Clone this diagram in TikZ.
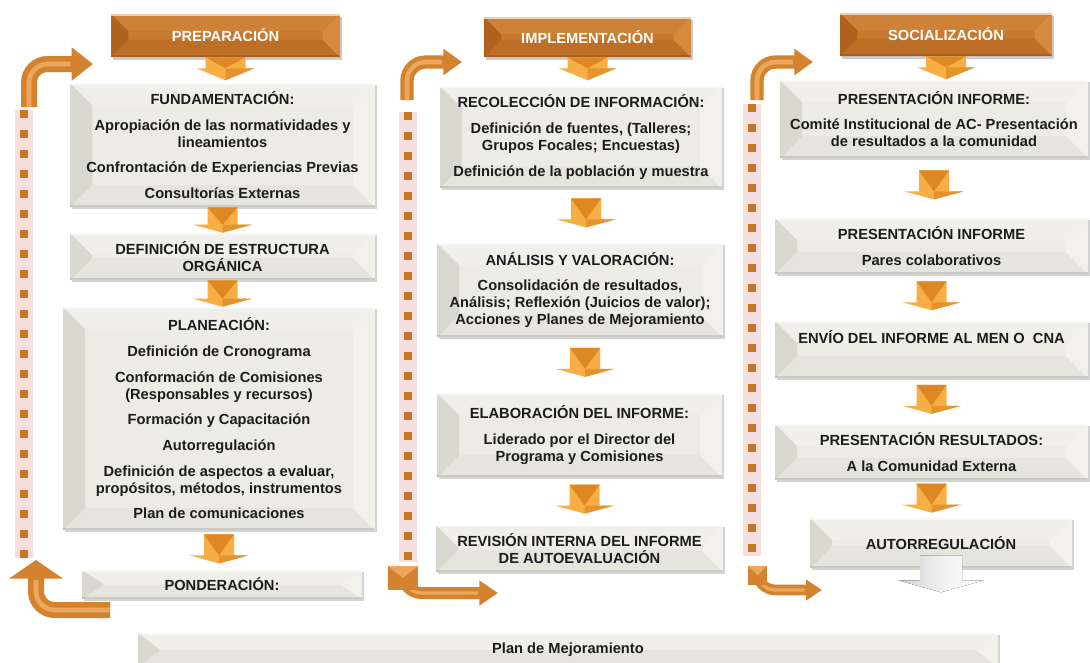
\documentclass[tikz,border=0pt]{standalone}
\usepackage{fontspec}
\setmainfont{Liberation Sans}
\usetikzlibrary{calc,shadows,arrows.meta}
\definecolor{face}{HTML}{ECEBE4}
\definecolor{bvL}{HTML}{D9D8CF}
\definecolor{bvR}{HTML}{F2F1EC}
\definecolor{bvT}{HTML}{F0EFE9}
\definecolor{bvB}{HTML}{E6E5DD}
\definecolor{hface}{HTML}{C77A30}
\definecolor{hL}{HTML}{B0621F}
\definecolor{hR}{HTML}{D68A3F}
\definecolor{hT}{HTML}{CE8238}
\definecolor{hB}{HTML}{BD6F27}
\definecolor{arL}{HTML}{F6AE45}
\definecolor{arD}{HTML}{DE8824}
\definecolor{elb}{HTML}{D38330}
\definecolor{elbL}{HTML}{EBA75C}
\definecolor{dashc}{HTML}{C97623}
\definecolor{glow}{HTML}{F5DFDF}
\definecolor{txt}{HTML}{1C1C1C}
\newcommand\bodyfont{\fontsize{11}{12.75}\selectfont\bfseries}
\newcommand\psk{6.5pt}
% bevel decoration drawn inside a node (behind its text)
\newcommand\bevelpp[5]{%
  \fill[#3] let \p1=(path picture bounding box.north west), \p2=(path picture bounding box.south east), \n1={min(#5,(\y1-\y2)/2)} in
    (\x1,\y1) -- (\x2,\y1) -- (\x2-#5,\y1-\n1) -- (\x1+#5,\y1-\n1) -- cycle;
  \fill[#4] let \p1=(path picture bounding box.north west), \p2=(path picture bounding box.south east), \n1={min(#5,(\y1-\y2)/2)} in
    (\x1,\y2) -- (\x2,\y2) -- (\x2-#5,\y2+\n1) -- (\x1+#5,\y2+\n1) -- cycle;
  \fill[#1] let \p1=(path picture bounding box.north west), \p2=(path picture bounding box.south east), \n1={min(#5,(\y1-\y2)/2)} in
    (\x1,\y1) -- (\x1+#5,\y1-\n1) -- (\x1+#5,\y2+\n1) -- (\x1,\y2) -- cycle;
  \fill[#2] let \p1=(path picture bounding box.north west), \p2=(path picture bounding box.south east), \n1={min(#5,(\y1-\y2)/2)} in
    (\x2,\y1) -- (\x2-#5,\y1-\n1) -- (\x2-#5,\y2+\n1) -- (\x2,\y2) -- cycle;
  \fill[white, opacity=.6] (path picture bounding box.north west) rectangle ([yshift=-1.5pt]path picture bounding box.north east);
  \fill[black, opacity=.12] (path picture bounding box.south west) rectangle ([yshift=1.2pt]path picture bounding box.south east);
}
\newcommand\mybox[7]{%
  \pgfmathsetmacro\bcx{(#3+#5)/2}%
  \pgfmathsetmacro\bcy{(#4+#6)/2}%
  \pgfmathsetmacro\bw{(#5-#3)*0.75}%
  \pgfmathsetmacro\bh{(#6-#4)*0.75}%
  \node[#1, minimum width=\bw pt, minimum height=\bh pt] (#2) at (\bcx,\bcy) {#7};}
% block arrow from top-centre #1 to tip #2
\newcommand\blk[5]{%
  \fill[arL] ($(#1)+(-#3,0)$) -- ($(#1)+(#3,0)$) -- ($(#2)+(#3,#5)$) -- ($(#2)+(#4,#5)$) -- (#2) -- ($(#2)+(-#4,#5)$) -- ($(#2)+(-#3,#5)$) -- cycle;
  \fill[arD] ($(#1)+(-#3,0)$) -- ($(#1)+(#3,0)$) -- ($(#2)+(0,#5)$) -- cycle;
  \fill[arD, opacity=.7] ($(#2)+(#4,#5)$) -- (#2) -- ($(#2)+(0,#5)$) -- cycle;
}
\newcommand\darrow[3][0pt]{%
  \path let \p1=(#2.south), \p2=(#3.north), \n1={\y1-\y2}, \n2={min(\n1,21.75pt)}, \n3={\y1-(\n1-\n2)*0.4} in
    (\x1+#1,\n3) coordinate (AT) (\x1+#1,\n3-\n2) coordinate (AB);
  \blk{AT}{AB}{11.25pt}{22pt}{6pt}}
\newcommand\harrow[2]{%
  \path let \p1=(#1.south), \p2=(#2.north), \n1={\y1-\y2}, \n2={min(\n1,17.25pt)} in
    (\x1,\y1) coordinate (AT) (\x1,\y1-\n2) coordinate (AB);
  \blk{AT}{AB}{15pt}{21.75pt}{9pt}}
\begin{document}
\begin{tikzpicture}[x=0.75pt,y=-0.75pt,
  bev/.style={fill=face, text=txt, font=\bodyfont, align=center, inner sep=2pt,
    drop shadow={opacity=0.35, shadow xshift=1.2pt, shadow yshift=-1.8pt},
    path picture={\bevelpp{bvL}{bvR}{bvT}{bvB}{16.5pt}}},
  hdr/.style={fill=hface, text=white, font=\bodyfont, align=center,
    drop shadow={opacity=0.4, shadow xshift=1.5pt, shadow yshift=-2pt},
    path picture={\bevelpp{hL}{hR}{hT}{hB}{13pt}}},
  elbow/.style={draw=elb, line width=#1, rounded corners=14pt},
  elbhi/.style={draw=elbL, line width=3.5pt, rounded corners=14pt},
  dotline/.style={draw=dashc, line width=6pt, dash pattern=on 6pt off 9pt},
  glowline/.style={draw=glow, line width=13pt}]
\useasboundingbox (0,0) rectangle (1090,662);
\fill[white] (0,0) rectangle (1090,662);

% dotted return lines
\coordinate (d1a) at (24,110); \coordinate (d1b) at (24,558);
\coordinate (d2a) at (408,112); \coordinate (d2b) at (408,562);
\coordinate (d3a) at (752,104); \coordinate (d3b) at (752,556);
\foreach \a/\b in {d1a/d1b,d2a/d2b,d3a/d3b}{
  \draw[glowline] (\a) -- (\b);
  \draw[dotline] (\a) -- (\b);}

% headers
\mybox{hdr}{hprep}{111}{14}{340}{57}{PREPARACIÓN}
\mybox{hdr}{himp}{484}{17}{691}{57}{IMPLEMENTACIÓN}
\mybox{hdr}{hsoc}{840}{13}{1052}{56}{SOCIALIZACIÓN}

% column 1
\mybox{bev}{fund}{70}{83}{375}{207}{FUNDAMENTACIÓN:\\[\psk]Apropiación de las normatividades y\\lineamientos\\[\psk]Confrontación de Experiencias Previas\\[\psk]Consultorías Externas}
\mybox{bev}{defe}{70}{233}{375}{280}{DEFINICIÓN DE ESTRUCTURA\\ORGÁNICA}
\mybox{bev}{plan}{63}{307}{375}{530}{PLANEACIÓN:\\[\psk]Definición de Cronograma\\[\psk]Conformación de Comisiones\\(Responsables y recursos)\\[\psk]Formación y Capacitación\\[\psk]Autorregulación\\[\psk]Definición de aspectos a evaluar,\\propósitos, métodos, instrumentos\\[\psk]Plan de comunicaciones}
\mybox{bev}{pond}{82}{570}{362}{599}{PONDERACIÓN:}

% column 2
\mybox{bev}{rec}{440}{86}{722}{188}{RECOLECCIÓN DE INFORMACIÓN:\\[\psk]Definición de fuentes, (Talleres;\\Grupos Focales; Encuestas)\\[\psk]Definición de la población y muestra}
\mybox{bev}{ana}{437}{243}{723}{337}{ANÁLISIS Y VALORACIÓN:\\[\psk]Consolidación de resultados,\\Análisis; Reflexión (Juicios de valor);\\Acciones y Planes de Mejoramiento}
\mybox{bev}{elab}{437}{393}{722}{477}{ELABORACIÓN DEL INFORME:\\[\psk]Liderado por el Director del\\Programa y Comisiones}
\mybox{bev}{rev}{436}{525}{723}{572}{REVISIÓN INTERNA DEL INFORME\\DE AUTOEVALUACIÓN}

% column 3
\mybox{bev}{pres}{780}{80}{1088}{158}{PRESENTACIÓN INFORME:\\[\psk]Comité Institucional de AC- Presentación\\de resultados a la comunidad}
\mybox{bev}{pares}{775}{218}{1088}{274}{PRESENTACIÓN INFORME\\[\psk]Pares colaborativos}
\mybox{bev}{envio}{775}{321}{1088}{378}{ENVÍO DEL INFORME AL MEN O\ \ CNA\\[\psk]\mbox{}}
\mybox{bev}{presres}{775}{424}{1088}{480}{PRESENTACIÓN RESULTADOS:\\[\psk]A la Comunidad Externa}
\mybox{bev}{auto}{810}{518}{1072}{568}{AUTORREGULACIÓN}

% bottom
\mybox{bev}{mej}{138}{633}{998}{667}{Plan de Mejoramiento}

% block arrows between steps
\harrow{hprep}{fund}
\darrow{fund}{defe}
\darrow{defe}{plan}
\darrow{plan}{pond}
\harrow{himp}{rec}
\darrow[3.75pt]{rec}{ana}
\darrow[3.75pt]{ana}{elab}
\darrow[3.75pt]{elab}{rev}
\harrow{hsoc}{pres}
\darrow{pres}{pares}
\darrow{pares}{envio}
\darrow{envio}{presres}
\darrow{presres}{auto}

% grey arrow out of AUTORREGULACIÓN
\path (auto.south) ++(0,-18pt) coordinate (autoend);
\fill[left color=black!18, right color=white, middle color=black!6]
  ($(autoend)+(-15.75pt,27.75pt)$) -- ($(autoend)+(15.75pt,27.75pt)$) -- ($(autoend)+(15.75pt,9pt)$) -- ($(autoend)+(32.25pt,9pt)$) -- (autoend) -- ($(autoend)+(-32.25pt,9pt)$) -- ($(autoend)+(-15.75pt,9pt)$) -- cycle;

% elbow arrows at the top of each column
\coordinate (e1a) at (29,107); \coordinate (e1b) at (93,64);
\coordinate (e2a) at (407,100); \coordinate (e2b) at (462,62);
\coordinate (e3a) at (757,100); \coordinate (e3b) at (813,62);
\draw[elbow=12pt, -{Triangle[width=24pt,length=16pt]}] (e1a) |- (e1b);
\draw[elbhi, shorten >=17pt] (e1a) |- (e1b);
\draw[elbow=10pt, -{Triangle[width=19pt,length=14pt]}] (e2a) |- (e2b);
\draw[elbhi, shorten >=15pt] (e2a) |- (e2b);
\draw[elbow=10pt, -{Triangle[width=19pt,length=14pt]}] (e3a) |- (e3b);
\draw[elbhi, shorten >=15pt] (e3a) |- (e3b);

% return arrows at the bottom
\coordinate (u1a) at (110,610); \coordinate (u1b) at (36,560);
\coordinate (u2a) at (403,576); \coordinate (u2b) at (498,593);
\coordinate (u3a) at (757,576); \coordinate (u3b) at (822,590);
\draw[elbow=12pt, -{Triangle[width=40pt,length=14pt]}] (u1a) -| (u1b);
\draw[elbhi, shorten >=15pt] (u1a) -| (u1b);
\draw[elbow=9pt, -{Triangle[width=18pt,length=14pt]}] (u2a) |- (u2b);
\draw[elbhi, line width=2.5pt, shorten >=15pt] (u2a) |- (u2b);
\draw[elbow=8pt, -{Triangle[width=15pt,length=12pt]}] (u3a) |- (u3b);
\draw[elbhi, line width=2.5pt, shorten >=13pt] (u3a) |- (u3b);
% tails of the bottom return arrows
\fill[elb] (388,566) rectangle (418,590);
\fill[elbL] (388,566) -- (418,566) -- (403,578) -- cycle;
\fill[elb] (748,566) rectangle (767,585);
\fill[elbL] (748,566) -- (767,566) -- (757.5,575) -- cycle;
\end{tikzpicture}
\end{document}
